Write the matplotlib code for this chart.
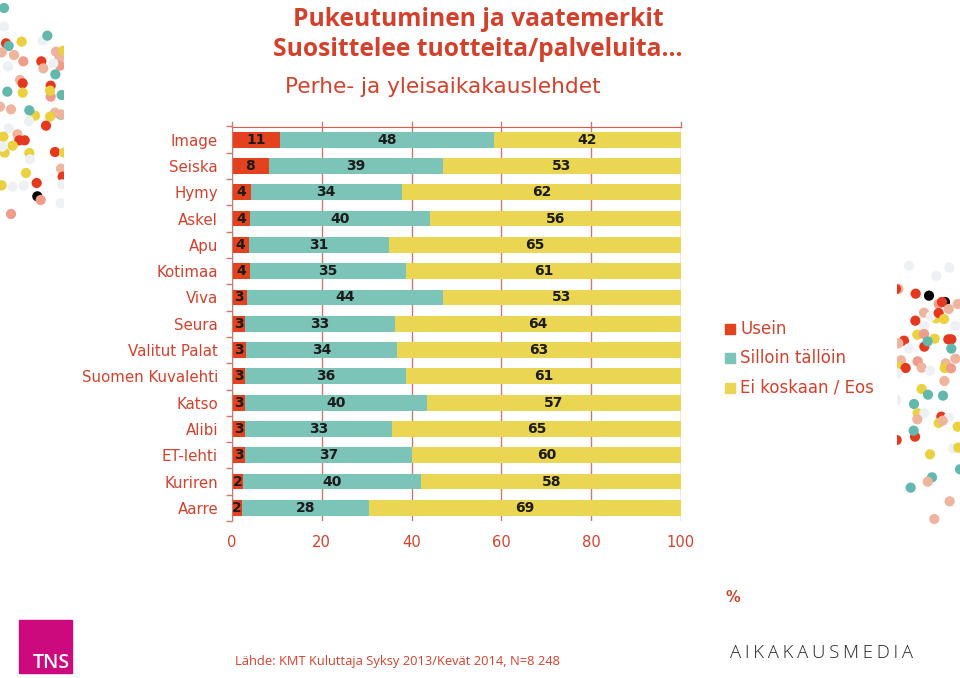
import matplotlib
matplotlib.use("Agg")
import matplotlib.pyplot as plt
import numpy as np

plt.rcParams['font.family'] = ['DejaVu Sans']

titles = ["Pukeutuminen ja vaatemerkit", "Suosittelee tuotteita/palveluita…"]
subtitle = "Perhe- ja yleisaikakauslehdet"
magazines = ["Image", "Seiska", "Hymy", "Askel", "Apu", "Kotimaa", "Viva", "Seura",
             "Valitut Palat", "Suomen Kuvalehti", "Katso", "Alibi", "ET-lehti", "Kuriren", "Aarre"]
usein = [10.7, 8.2, 4.2, 4.0, 3.7, 4.0, 3.3, 3.0, 3.2, 3.0, 3.0, 3.0, 3.0, 2.4, 2.3]
silloin = [47.7, 38.8, 33.6, 40.2, 31.3, 34.8, 43.7, 33.2, 33.6, 35.8, 40.4, 32.6, 37.0, 39.8, 28.3]
ei = [41.6, 53.0, 62.2, 55.8, 65.0, 61.2, 53.0, 63.8, 63.2, 61.2, 56.6, 64.6, 60.0, 57.8, 69.4]
series_names = ["Usein", "Silloin tällöin", "Ei koskaan / Eos"]
xticks = [0, 20, 40, 60, 80, 100]

RED, TEAL, YEL = "#E4411F", "#7CC3B8", "#EBD654"
TXT = "#D2412B"
GRID = "#C77A70"
W, H = 960, 678
fig = plt.figure(figsize=(W/100, H/100), dpi=100, facecolor="white")
ax = fig.add_axes([232/W, 1-521/H, (681-232)/W, (521-126.5)/H])
y = np.arange(len(magazines))
left = np.zeros(len(y))
for v, c, n in zip((usein, silloin, ei), (RED, TEAL, YEL), series_names):
    v = np.array(v)
    ax.barh(y, v, left=left, height=0.6, color=c, zorder=3, label=n)
    for yy, l, vv in zip(y, left, v):
        ax.text(l+vv/2, yy, f"{round(vv)}", ha="center", va="center", fontsize=10,
                color="#1c1c1c", fontweight="bold", zorder=4)
    left += v
ax.set_xlim(0, 100); ax.set_ylim(len(y)-0.5, -0.5)
ax.set_yticks(y, magazines, fontsize=10.8, color=TXT)
ax.set_yticks(np.arange(-0.5, len(y)), minor=True)
ax.set_xticks(xticks, [str(t) for t in xticks], fontsize=10.6, color=TXT)
ax.tick_params(axis="y", which="major", length=0, pad=10)
ax.tick_params(axis="y", which="minor", length=4, color=GRID, width=1)
ax.tick_params(axis="x", length=0, pad=10)
ax.grid(axis="x", color=GRID, lw=1, zorder=1)
for s in ("right", "bottom"):
    ax.spines[s].set_visible(False)
ax.spines["left"].set_color(GRID)
ax.spines["top"].set_color("#DB5A4C")
ax.spines["left"].set_zorder(5)
for t in xticks:
    ax.plot([t, t], [1, 1.012], transform=ax.get_xaxis_transform(), color=GRID, lw=1,
            clip_on=False, zorder=1)

def T(x, yy, s, **k):
    fig.text(x/W, 1-yy/H, s, **k)
T(478, 19, titles[0], ha="center", va="center", fontsize=17.7, color=TXT, fontweight="bold", family="Open Sans")
T(478, 50, titles[1], ha="center", va="center", fontsize=17.7, color=TXT, fontweight="bold", family="Open Sans")
T(443, 87, subtitle, ha="center", va="center", fontsize=15.6, color=TXT)
T(726, 598, "%", fontsize=10.5, color=TXT, va="center", fontweight="bold")
T(235, 662, "Lähde: KMT Kuluttaja Syksy 2013/Kevät 2014, N=8 248", fontsize=9.3, color=TXT, va="center", family="Open Sans")
T(730, 653, "\u200a\u200a".join("AIKAKAUSMEDIA"), fontsize=13.3, color="#222222", va="center",
  fontweight="light", family=["Open Sans", "DejaVu Sans"])

for yy, c, n in zip((329, 358, 388), (RED, TEAL, YEL), series_names):
    fig.patches.append(plt.Rectangle((725/W, 1-(yy+5)/H), 10/W, 10/H, transform=fig.transFigure, color=c))
    T(740, yy, n, fontsize=12, color=TXT, va="center")

fig.patches.append(plt.Rectangle((19/W, 1-673/H), 53/W, 53/H, transform=fig.transFigure, color="#CC0A7E"))
T(51, 663, "TNS", fontsize=14, color="white", ha="center", va="center", family="Open Sans", fontweight="semibold")

# Decorative confetti, in pixels of the 3x crops
PAL = dict(r="#E5391F", t="#62B8AC", y="#EBD040", s="#EFB49E", p="#EF9C8A", w="#EEF1F4", k="#000000")
left_dots = [(12,24,'t'),(12,80,'w'),(128,122,'w'),(142,107,'t'),(65,125,'y'),(18,130,'r'),(26,138,'t'),(5,157,'s'),
    (42,165,'s'),(70,184,'p'),(168,155,'s'),(178,175,'s'),(180,197,'p'),(124,184,'r'),(130,205,'s'),(160,190,'w'),
    (190,152,'y'),(24,200,'w'),(166,223,'t'),(60,240,'s'),(68,250,'r'),(152,290,'p'),(152,257,'r'),(150,272,'y'),
    (22,275,'t'),(68,278,'y'),(185,285,'t'),(0,320,'s'),(33,328,'s'),(105,347,'y'),(88,331,'t'),(87,363,'w'),
    (182,344,'t'),(165,338,'s'),(150,350,'y'),(186,344,'s'),(138,377,'r'),(26,385,'w'),(52,403,'s'),(10,410,'y'),
    (58,421,'r'),(74,421,'r'),(14,458,'y'),(6,440,'w'),(38,437,'y'),(88,459,'y'),(90,478,'w'),(165,456,'r'),
    (192,458,'y'),(78,519,'y'),(183,506,'s'),(188,530,'r'),(110,549,'r'),(5,556,'y'),(38,560,'w'),(71,557,'w'),
    (186,553,'w'),(112,589,'k'),(122,600,'p'),(182,610,'w'),(33,642,'p')]
right_dots = [(627,47,'w'),(748,53,'w'),(709,78,'w'),(595,117,'s'),(588,117,'r'),(647,131,'r'),(687,137,'k'),
    (735,156,'k'),(716,162,'p'),(726,156,'r'),(773,162,'s'),(746,177,'s'),(672,188,'s'),(708,205,'y'),(692,199,'w'),
    (716,189,'r'),(732,207,'y'),(646,212,'r'),(673,228,'w'),(766,228,'w'),(652,254,'y'),(672,252,'p'),(704,266,'y'),
    (612,272,'r'),(673,290,'r'),(683,274,'t'),(745,268,'r'),(754,268,'r'),(754,296,'t'),(626,295,'w'),(595,280,'s'),
    (766,326,'s'),(603,331,'s'),(653,334,'p'),(737,340,'s'),(665,353,'s'),(690,362,'w'),(734,354,'y'),(753,355,'p'),
    (598,350,'y'),(617,354,'r'),(592,370,'w'),(733,393,'s'),(665,417,'y'),(684,434,'t'),(729,437,'t'),(642,462,'t'),
    (653,490,'y'),(673,490,'w'),(652,508,'s'),(724,500,'r'),(746,502,'w'),(716,519,'y'),(728,512,'s'),(773,530,'y'),
    (645,560,'r'),(641,542,'t'),(590,570,'r'),(760,595,'w'),(775,593,'y'),(690,613,'y'),(780,658,'t'),(696,682,'t'),
    (683,695,'s'),(632,713,'t'),(749,754,'s'),(703,807,'s'),(590,450,'w')]
deco = fig.add_axes([0, 0, 1, 1], facecolor="none", zorder=-1)
deco.set_xlim(0, W); deco.set_ylim(H, 0); deco.axis("off")
for dots, ox, oy, x0, x1 in ((left_dots, 0, 0, 0, 63.5), (right_dots, 700, 250, 896.5, 960)):
    sc = deco.scatter([ox+d[0]/3 for d in dots], [oy+d[1]/3 for d in dots], s=54,
                      c=[PAL[d[2]] for d in dots], linewidths=0)
    sc.set_clip_path(plt.Rectangle((x0, 0), x1-x0, H, transform=deco.transData))

fig.savefig("out.png", dpi=100)
